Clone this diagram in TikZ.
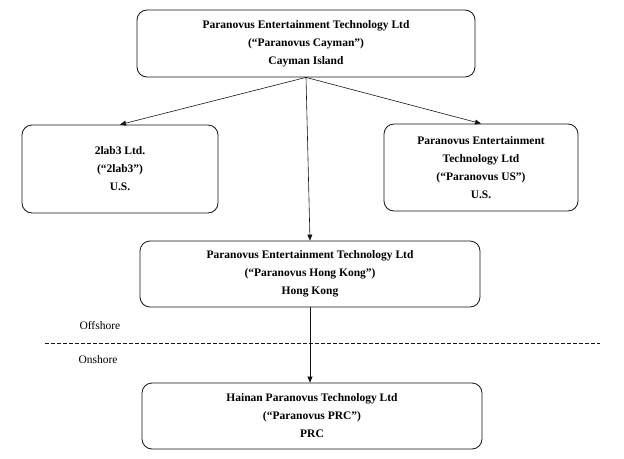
\documentclass[tikz,border=0pt]{standalone}
\usepackage{fontspec}
\usepackage{tikz}
\usetikzlibrary{arrows.meta,positioning}
\setmainfont{Liberation Serif}
\definecolor{pvline}{RGB}{20,20,20}
\tikzset{
  pvbox/.style={draw=pvline, thick, rounded corners=10pt, fill=white, align=center, font=\bfseries\fontsize{11.5}{18}\selectfont, inner sep=4pt},
  pvarr/.style={-{Triangle[length=6pt, width=5pt]}, semithick, draw=pvline},
  pvsplit/.style={semithick, draw=pvline, dash pattern=on 4pt off 2pt},
  pvlab/.style={font=\fontsize{11.5}{14}\selectfont, anchor=west}
}
\begin{document}
\begin{tikzpicture}[x=1pt, y=-1pt]
  \useasboundingbox (0,0) rectangle (624,458);
  \node[pvbox, minimum width=338pt, minimum height=67pt] (cayman) at (306,43.5) {Paranovus Entertainment Technology Ltd\\(“Paranovus Cayman”)\\Cayman Island};
  \node[pvbox, minimum width=196pt, minimum height=88pt] (lab) at (120,169) {2lab3 Ltd.\\(“2lab3”)\\U.S.};
  \node[pvbox, minimum width=194pt, minimum height=87pt] (us) at (481,167.5) {Paranovus Entertainment\\Technology Ltd\\(“Paranovus US”)\\U.S.};
  \node[pvbox, minimum width=340pt, minimum height=66pt] (hk) at (310,274) {Paranovus Entertainment Technology Ltd\\(“Paranovus Hong Kong”)\\Hong Kong};
  \node[pvbox, minimum width=340pt, minimum height=66pt] (prc) at (312,416) {Hainan Paranovus Technology Ltd\\(“Paranovus PRC”)\\PRC};
  \coordinate (cut-l) at (45,343);
  \coordinate (cut-r) at (600,343);
  \node[pvlab] (off) at (76,326) {Offshore};
  \node[pvlab] (on) at (75,360) {Onshore};
  \draw[pvarr] (cayman.south) -- (lab.north);
  \draw[pvarr] (cayman.south) -- (us.north);
  \draw[pvarr] (cayman.south) -- (hk.north);
  \draw[pvarr] (hk.south) -- (hk.south |- prc.north);
  \draw[pvsplit] (cut-l) -- (cut-r);
\end{tikzpicture}
\end{document}
